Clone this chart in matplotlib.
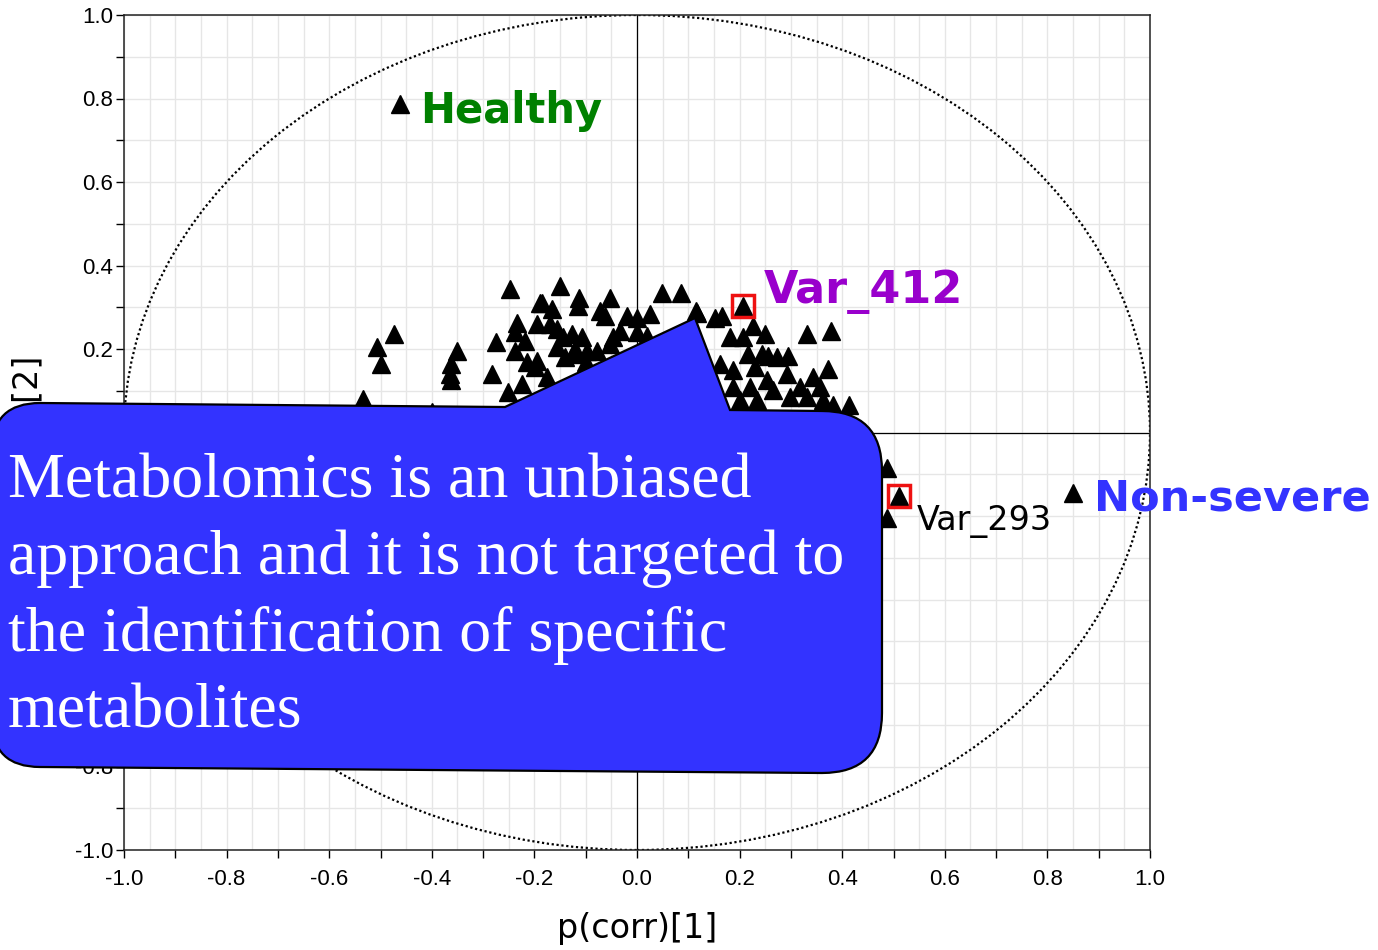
#!/usr/bin/env python3
import matplotlib
matplotlib.use("Agg")
import matplotlib.pyplot as plt
import numpy as np
from matplotlib.patches import Ellipse, PathPatch
from matplotlib.path import Path
from matplotlib.ticker import MultipleLocator, FuncFormatter
import matplotlib.transforms as mtransforms

# loadings p(corr)[1] / p(corr)[2]
var_x = [-0.248, -0.474, -0.507, -0.499, -0.534, -0.351, -0.363, -0.365, -0.363,
         -0.275, -0.283, -0.234, -0.238, -0.238, -0.218, -0.214, -0.251, -0.224,
         -0.195, -0.189, -0.150, -0.185, -0.166, -0.113, -0.115, -0.053, -0.072,
         -0.062, -0.019, 0.000, 0.025, 0.049, 0.086, 0.117, -0.170, -0.156,
         -0.144, -0.127, -0.107, -0.078, -0.047, -0.033, 0.000, 0.019, -0.199,
         -0.175, -0.156, -0.125, -0.097, -0.053, -0.195, -0.120, -0.100, -0.140,
         0.115, 0.152, 0.166, 0.226, 0.250, 0.331, 0.378, 0.181, 0.207,
         0.216, 0.244, 0.255, 0.273, 0.294, 0.162, 0.187, 0.230, 0.292, 0.372,
         0.343, 0.253, 0.318, 0.357, 0.187, 0.220, 0.265, 0.298, 0.331, 0.413,
         0.201, 0.234, 0.363, 0.382, 0.487, 0.487,
         -0.40, -0.30, -0.20, -0.10, 0.05, 0.15, 0.30, 0.42, -0.15, 0.10, 0.35, 0.45]
var_y = [0.343, 0.235, 0.204, 0.163, 0.081, 0.196, 0.165, 0.141, 0.125,
         0.216, 0.139, 0.263, 0.240, 0.196, 0.220, 0.168, 0.096, 0.117,
         0.261, 0.309, 0.350, 0.311, 0.295, 0.321, 0.304, 0.321, 0.292,
         0.280, 0.280, 0.275, 0.285, 0.335, 0.335, 0.287, 0.261, 0.249,
         0.228, 0.237, 0.228, 0.196, 0.228, 0.244, 0.240, 0.232, 0.156,
         0.132, 0.204, 0.189, 0.196, 0.213, 0.172, 0.200, 0.170, 0.180,
         0.290, 0.275, 0.280, 0.256, 0.237, 0.237, 0.242, 0.228, 0.228,
         0.189, 0.189, 0.184, 0.180, 0.184, 0.165, 0.149, 0.156, 0.141, 0.153,
         0.132, 0.125, 0.108, 0.108, 0.108, 0.108, 0.101, 0.084, 0.084, 0.065,
         0.077, 0.077, 0.077, 0.065, -0.084, -0.204,
         0.05, 0.04, 0.02, 0.06, 0.03, 0.01, 0.02, -0.02, -0.05, -0.08, -0.06, -0.12]

# labelled points
group_names = ["Healthy", "Non-severe"]
group_x = [-0.462, 0.850]
group_y = [0.786, -0.146]
group_colors = ["#008000", "#3333ff"]

marked_names = ["Var_412", "Var_293"]
marked_x = [0.207, 0.511]
marked_y = [0.302, -0.153]

callout_lines = ["Metabolomics is an unbiased",
                 "approach and it is not targeted to",
                 "the identification of specific",
                 "metabolites"]

W, H = 1378, 950
fig = plt.figure(figsize=(W / 100, H / 100), dpi=100)
ax = fig.add_axes([124 / W, 1 - 850 / H, 1026 / W, 835 / H])

ax.set_xlim(-1, 1)
ax.set_ylim(-1, 1)

# grid
ax.xaxis.set_major_locator(MultipleLocator(0.1))
ax.xaxis.set_minor_locator(MultipleLocator(0.05))
ax.yaxis.set_major_locator(MultipleLocator(0.1))
ax.grid(True, which="both", axis="x", color="#e6e6e6", lw=1)
ax.grid(True, which="major", axis="y", color="#e6e6e6", lw=1)
ax.set_axisbelow(True)

fmt = FuncFormatter(lambda v, p: f"{v:.1f}" if round(v * 10) % 2 == 0 else "")
ax.xaxis.set_major_formatter(fmt)
ax.yaxis.set_major_formatter(fmt)
ax.tick_params(which="major", direction="out", length=6, width=1,
               labelsize=16, labelfontfamily="Liberation Sans")
ax.tick_params(axis="x", pad=8)
ax.tick_params(axis="y", pad=2)
ax.tick_params(which="minor", length=0)
for s in ax.spines.values():
    s.set_linewidth(1.1)
    s.set_color("#222222")

ax.axhline(0, color="black", lw=0.9, zorder=1)
ax.axvline(0, color="black", lw=0.9, zorder=1)
ax.add_patch(Ellipse((0, 0), 2, 2, fill=False, ls=(0, (1, 1.2)), lw=1.6,
                     color="black", zorder=2))

ax.plot(var_x, var_y, ls="none", marker="^", ms=13, color="black", zorder=3)
ax.plot(group_x, group_y, ls="none", marker="^", ms=13, color="black", zorder=3)
ax.plot(marked_x, marked_y, ls="none", marker="^", ms=13, color="black", zorder=3)
ax.plot(marked_x, marked_y, ls="none", marker="s", ms=16, mfc="none",
        mec="#ee1111", mew=2.5, zorder=4)

ax.text(group_x[0] + 0.04, group_y[0] - 0.017, group_names[0], color=group_colors[0],
        fontsize=30, fontweight="bold", va="center", ha="left")
ax.text(group_x[1] + 0.04, group_y[1] - 0.012, group_names[1], color=group_colors[1],
        fontsize=31, fontweight="bold", va="center", ha="left")
ax.text(marked_x[0] + 0.04, marked_y[0] + 0.035, marked_names[0], color="#9900cc",
        fontsize=32, fontweight="bold", va="center", ha="left")
ax.text(marked_x[1] + 0.035, marked_y[1] - 0.06, marked_names[1], color="black",
        fontsize=24, va="center", ha="left")

ax.set_xlabel("p(corr)[1]", fontsize=24)
ax.set_ylabel("p(corr)[2]", fontsize=24)
ax.xaxis.set_label_coords(0.5, -0.074)
ax.yaxis.set_label_coords(-0.08, 0.5)

# callout bubble drawn in figure pixel space
verts = [(40, 403), (505, 407), (695, 318), (730, 410), (822, 411),
         (882, 411), (882, 471), (882, 713), (882, 773), (822, 773),
         (40, 767), (-8, 767), (-8, 720), (-8, 450), (-8, 403), (40, 403), (40, 403)]
codes = [Path.MOVETO, Path.LINETO, Path.LINETO, Path.LINETO, Path.LINETO,
         Path.CURVE3, Path.CURVE3, Path.LINETO, Path.CURVE3, Path.CURVE3,
         Path.LINETO, Path.CURVE3, Path.CURVE3, Path.LINETO, Path.CURVE3, Path.CURVE3,
         Path.CLOSEPOLY]
px = mtransforms.Affine2D().scale(1 / W, -1 / H).translate(0, 1) + fig.transFigure
bubble = PathPatch(Path(verts, codes), facecolor="#3333ff", edgecolor="black",
                   lw=1.6, transform=px, zorder=10)
fig.add_artist(bubble)

for i, line in enumerate(callout_lines):
    fig.text(8 / W, 1 - (497 + 77 * i) / H, line, color="white", fontsize=46,
             family="Liberation Serif", va="baseline", ha="left", zorder=11)

fig.savefig("out.png", dpi=100)
